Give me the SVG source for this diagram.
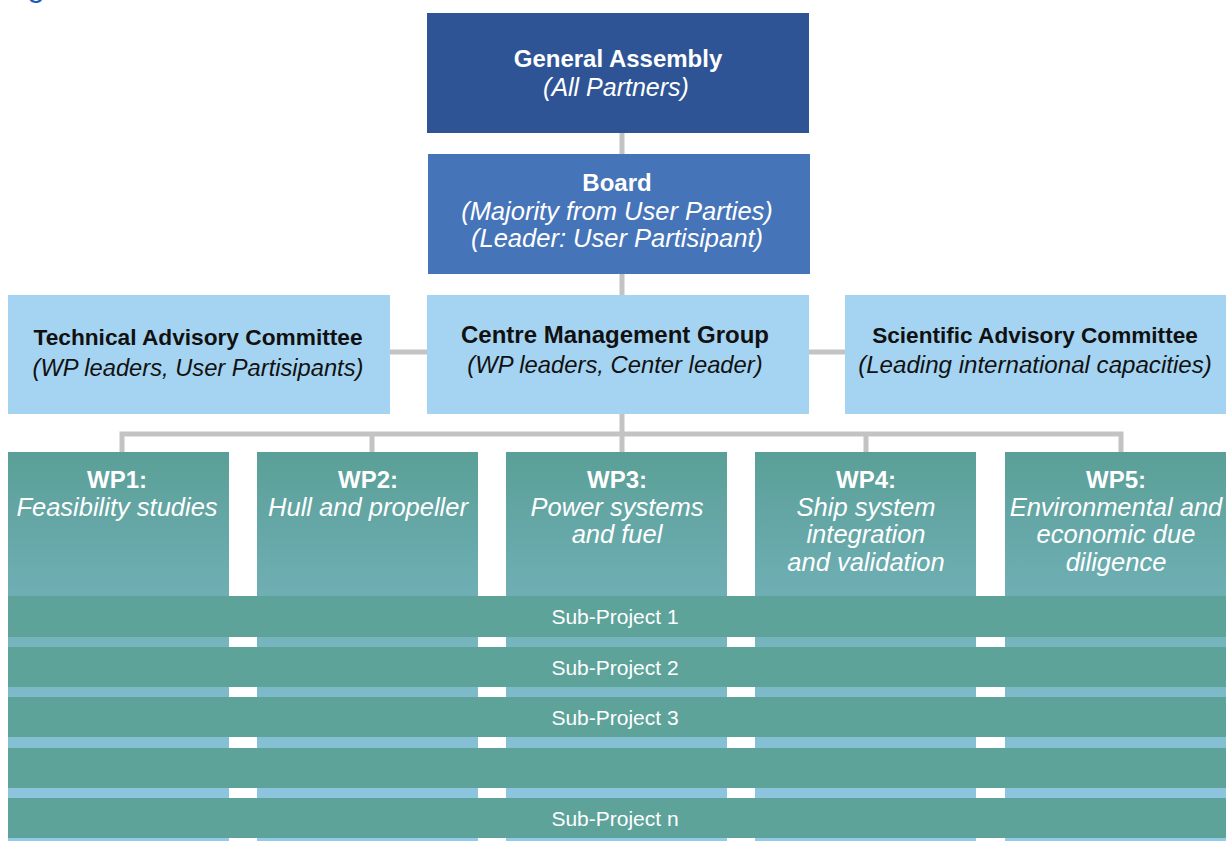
<svg xmlns="http://www.w3.org/2000/svg" width="1230" height="841" viewBox="0 0 1230 841">
  <style>
    .bold { font-family: "Liberation Sans", Arial, sans-serif; font-weight: bold; text-anchor: middle; }
    .ital { font-family: "Liberation Sans", Arial, sans-serif; font-style: italic; text-anchor: middle; }
    .reg  { font-family: "Liberation Sans", Arial, sans-serif; text-anchor: middle; }
    .w { fill: #ffffff; }
    .k { fill: #111111; }
    .ga { fill: #2e5496; }
    .board { fill: #4674b9; }
    .light { fill: #a5d4f2; }
    .wp { fill: url(#wpFade); }
    .bar { fill: #5da39a; }
    .link { stroke: #c3c3c3; stroke-width: 5; fill: none; }
  </style>
  <defs>
    <linearGradient id="wpFade" gradientUnits="userSpaceOnUse" x1="0" y1="452" x2="0" y2="841">
      <stop offset="0" stop-color="#5a9f97"/>
      <stop offset="1" stop-color="#93cae7"/>
    </linearGradient>
  </defs>

  <rect x="0" y="0" width="1230" height="841" fill="#ffffff"/>

  <!-- heading descender peeking in at the top edge -->
  <text x="27" y="-4" font-family="Liberation Sans, Arial, sans-serif" font-size="32" fill="#1e5cb8">g</text>

  <!-- connectors -->
  <g id="connectors" class="link">
    <line x1="622" y1="133" x2="622" y2="154"/>
    <line x1="622" y1="274" x2="622" y2="295"/>
    <line x1="390" y1="352" x2="427" y2="352"/>
    <line x1="809" y1="352" x2="845" y2="352"/>
    <line x1="622" y1="414" x2="622" y2="434"/>
    <polyline points="122,452 122,434 1121,434 1121,452"/>
    <line x1="372" y1="434" x2="372" y2="452"/>
    <line x1="622" y1="434" x2="622" y2="452"/>
    <line x1="866" y1="434" x2="866" y2="452"/>
  </g>

  <g id="general-assembly">
    <rect class="ga" x="427" y="13" width="382" height="120"/>
    <text class="bold w" x="618" y="67" font-size="24">General Assembly</text>
    <text class="ital w" x="616" y="96" font-size="25">(All Partners)</text>
  </g>

  <g id="board">
    <rect class="board" x="428" y="154" width="382" height="120"/>
    <text class="bold w" x="617" y="191" font-size="24">Board</text>
    <text class="ital w" x="617" y="220" font-size="25.5">(Majority from User Parties)</text>
    <text class="ital w" x="617" y="247" font-size="25.5">(Leader: User Partisipant)</text>
  </g>

  <g id="technical-advisory-committee">
    <rect class="light" x="8" y="295" width="382" height="119"/>
    <text class="bold k" x="198" y="345" font-size="22.7">Technical Advisory Committee</text>
    <text class="ital k" x="198" y="376" font-size="23.7">(WP leaders, User Partisipants)</text>
  </g>

  <g id="centre-management-group">
    <rect class="light" x="427" y="295" width="382" height="119"/>
    <text class="bold k" x="615" y="343" font-size="24">Centre Management Group</text>
    <text class="ital k" x="615" y="373" font-size="23.8">(WP leaders, Center leader)</text>
  </g>

  <g id="scientific-advisory-committee">
    <rect class="light" x="845" y="295" width="381" height="119"/>
    <text class="bold k" x="1035" y="343" font-size="22.6">Scientific Advisory Committee</text>
    <text class="ital k" x="1035" y="373" font-size="24.1">(Leading international capacities)</text>
  </g>

  <!-- work package columns -->
  <g id="wp1">
    <rect class="wp" x="8" y="452" width="221" height="389"/>
    <text class="bold w" x="117" y="488" font-size="24">WP1:</text>
    <text class="ital w" x="117" y="516" font-size="25.5">Feasibility studies</text>
  </g>
  <g id="wp2">
    <rect class="wp" x="257" y="452" width="221" height="389"/>
    <text class="bold w" x="368" y="488" font-size="24">WP2:</text>
    <text class="ital w" x="368" y="516" font-size="25.5">Hull and propeller</text>
  </g>
  <g id="wp3">
    <rect class="wp" x="506" y="452" width="221" height="389"/>
    <text class="bold w" x="617" y="488" font-size="24">WP3:</text>
    <text class="ital w" x="617" y="516" font-size="25.5">Power systems</text>
    <text class="ital w" x="617" y="543" font-size="25.5">and fuel</text>
  </g>
  <g id="wp4">
    <rect class="wp" x="755" y="452" width="221" height="389"/>
    <text class="bold w" x="866" y="488" font-size="24">WP4:</text>
    <text class="ital w" x="866" y="516" font-size="25.5">Ship system</text>
    <text class="ital w" x="866" y="543" font-size="25.5">integration</text>
    <text class="ital w" x="866" y="571" font-size="25.5">and validation</text>
  </g>
  <g id="wp5">
    <rect class="wp" x="1005" y="452" width="221" height="389"/>
    <text class="bold w" x="1116" y="488" font-size="24">WP5:</text>
    <text class="ital w" x="1116" y="516" font-size="25.5">Environmental and</text>
    <text class="ital w" x="1116" y="543" font-size="25.5">economic due</text>
    <text class="ital w" x="1116" y="571" font-size="25.5">diligence</text>
  </g>

  <!-- sub-project bands across all work packages -->
  <g id="sub-project-1">
    <rect class="bar" x="8" y="596" width="1218" height="41"/>
    <text class="reg w" x="615" y="624" font-size="21">Sub-Project 1</text>
  </g>
  <g id="sub-project-2">
    <rect class="bar" x="8" y="647" width="1218" height="40"/>
    <text class="reg w" x="615" y="675" font-size="21">Sub-Project 2</text>
  </g>
  <g id="sub-project-3">
    <rect class="bar" x="8" y="697" width="1218" height="40"/>
    <text class="reg w" x="615" y="725" font-size="21">Sub-Project 3</text>
  </g>
  <g id="sub-project-blank">
    <rect class="bar" x="8" y="748" width="1218" height="40"/>
  </g>
  <g id="sub-project-n">
    <rect class="bar" x="8" y="798" width="1218" height="40"/>
    <text class="reg w" x="615" y="826" font-size="21">Sub-Project n</text>
  </g>
</svg>
